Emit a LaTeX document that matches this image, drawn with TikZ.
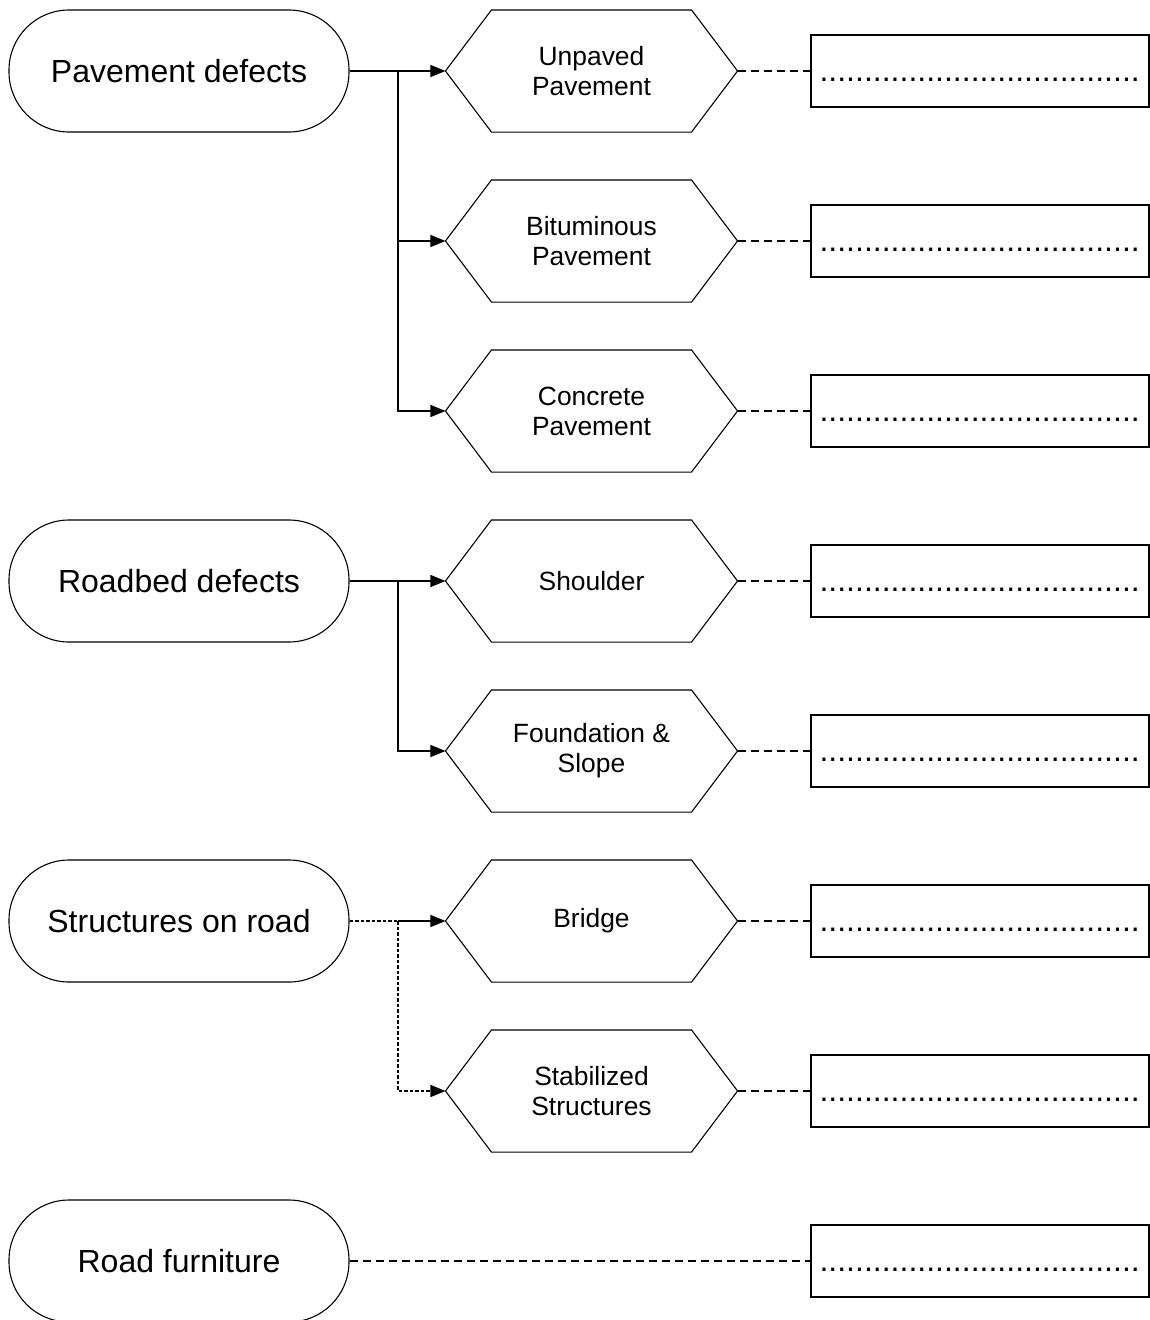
\documentclass[tikz,border=0pt]{standalone}
\usepackage{fontspec}
\setmainfont{Liberation Sans}
\usetikzlibrary{arrows.meta}
\begin{document}
\begin{tikzpicture}[x=1pt,y=-1pt,line width=1.1pt,
 stad/.style={draw, rounded corners=60pt, minimum width=340pt, minimum height=122pt, font=\fontsize{32}{38}\selectfont, inner sep=0pt},
 hexb/.style={minimum width=291pt, minimum height=121pt, inner sep=0pt, align=center, font=\fontsize{26.4}{30}\selectfont},
 resbox/.style={draw, minimum width=338pt, minimum height=72pt, inner sep=0pt},
 dotline/.style={font=\fontsize{32}{38}\selectfont, inner sep=0pt, anchor=base west},
 arr/.style={-{Triangle[length=15pt,width=12pt]}},
 link/.style={line width=1.4pt, dash pattern=on 8pt off 5pt},
 fine/.style={line width=1.2pt, dash pattern=on 3.5pt off 2pt},
]
\useasboundingbox (0,0) rectangle (1150,1320);

% category nodes
\node[stad] (s1) at (179,71) {Pavement defects};
\node[stad] (s2) at (179,581) {Roadbed defects};
\node[stad] (s3) at (179,921) {Structures on road};
\node[stad] (s4) at (179,1261) {Road furniture};

% hexagon nodes
\node[hexb] (h1) at (591.5,71) {Unpaved\\Pavement};
\node[hexb] (h2) at (591.5,241) {Bituminous\\Pavement};
\node[hexb] (h3) at (591.5,411) {Concrete\\Pavement};
\node[hexb] (h4) at (591.5,581) {Shoulder};
\node[hexb] (h5) at (591.5,751) {Foundation \&\\Slope};
\node[hexb] (h6) at (591.5,921) {Bridge};
\node[hexb] (h7) at (591.5,1091) {Stabilized\\Structures};
\foreach \n in {h1,h2,h3,h4,h5,h6,h7}
  \draw (\n.west) -- ([xshift=46pt]\n.north west) -- ([xshift=-46pt]\n.north east)
        -- (\n.east) -- ([xshift=-46pt]\n.south east) -- ([xshift=46pt]\n.south west) -- cycle;

% result boxes
\foreach \i/\y in {1/71,2/241,3/411,4/581,5/751,6/921,7/1091,8/1261}{
  \node[resbox] (b\i) at (980,\y) {};
  \node[dotline] (d\i) at (819,\y+10) {....................................};
}

% trunk coordinates
\coordinate (t1) at (398,71);
\coordinate (t2) at (398,581);
\coordinate (t3) at (398,921);

% connectors
\draw (s1.east) -- (t1);
\draw[arr] (t1) -- (h1.west);
\draw[arr] (t1) |- (h2.west);
\draw[arr] (t1) |- (h3.west);

\draw (s2.east) -- (t2);
\draw[arr] (t2) -- (h4.west);
\draw[arr] (t2) |- (h5.west);

\draw[fine] (s3.east) -- (t3);
\draw[arr] (t3) -- (h6.west);
\draw[fine,arr] (t3) |- (h7.west);

\foreach \i in {1,...,7}
  \draw[link] (h\i.east) -- (b\i.west);
\draw[link] (s4.east) -- (b8.west);
\end{tikzpicture}
\end{document}
